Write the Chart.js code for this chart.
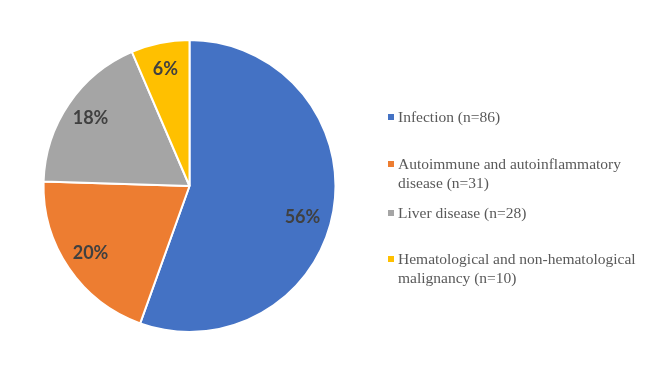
<!DOCTYPE html>
<html lang="en">
  <head>
    <meta charset="UTF-8" />
    <title>Pie chart</title>
    <script src="https://cdn.jsdelivr.net/npm/chart.js"></script>
    <style>
      html, body {
        margin: 0;
        padding: 0;
        background: #ffffff;
      }
      #wrap {
        position: relative;
        width: 669px;
        height: 372px;
      }
      #legend {
        position: absolute;
        left: 0;
        top: 0;
        font-family: "Liberation Serif", "Times New Roman", serif;
        font-size: 15.5px;
        line-height: 19px;
        color: #595959;
      }
      .item {
        position: absolute;
        left: 398px;
        width: 255px;
      }
      .item .box {
        position: absolute;
        left: -10px;
        top: 7px;
        width: 6px;
        height: 6px;
      }
    </style>
  </head>
  <body>
    <div id="wrap">
      <canvas id="myChart" width="669" height="372"></canvas>
      <div id="legend"></div>
    </div>

    <script>
      var labels = [
        'Infection (n=86)',
        'Autoimmune and autoinflammatory disease (n=31)',
        'Liver disease (n=28)',
        'Hematological and non-hematological malignancy (n=10)'
      ];
      var counts = [86, 31, 28, 10];
      var percentLabels = ['56%', '20%', '18%', '6%'];
      var colors = ['#4472C4', '#ED7D31', '#A5A5A5', '#FFC000'];

      // legend rows (top of first line, px)
      var legendTops = [106.5, 153.5, 202.5, 248.5];
      // small nudges of the % text, like Excel's best-fit placement
      var labelNudge = [[-5, 11], [0, 0], [0, 0], [0, 0]];

      var legend = document.getElementById('legend');
      labels.forEach(function (txt, i) {
        var div = document.createElement('div');
        div.className = 'item';
        div.style.top = legendTops[i] + 'px';
        var box = document.createElement('span');
        box.className = 'box';
        box.style.background = colors[i];
        div.appendChild(box);
        div.appendChild(document.createTextNode(txt));
        legend.appendChild(div);
      });

      // percentage text inside each slice
      var sliceLabels = {
        id: 'sliceLabels',
        afterDatasetsDraw: function (chart) {
          var ctx = chart.ctx;
          var meta = chart.getDatasetMeta(0);
          ctx.save();
          ctx.font = 'bold 18px Lato, "Open Sans", sans-serif';
          ctx.fillStyle = '#404040';
          ctx.textAlign = 'center';
          ctx.textBaseline = 'middle';
          meta.data.forEach(function (arc, i) {
            var p = arc.getProps(['x', 'y', 'startAngle', 'endAngle', 'outerRadius'], true);
            var mid = (p.startAngle + p.endAngle) / 2;
            var r = p.outerRadius * 0.82;
            ctx.fillText(percentLabels[i],
              p.x + Math.cos(mid) * r + labelNudge[i][0],
              p.y + Math.sin(mid) * r + labelNudge[i][1]);
          });
          ctx.restore();
        }
      };

      var ctx = document.getElementById('myChart').getContext('2d');
      var myChart = new Chart(ctx, {
        type: 'pie',
        data: {
          labels: labels,
          datasets: [{
            data: counts,
            backgroundColor: colors,
            borderColor: '#ffffff',
            borderWidth: 2
          }]
        },
        options: {
          responsive: false,
          animation: false,
          layout: {
            padding: { left: 42.5, right: 332.5, top: 39, bottom: 39 }
          },
          plugins: {
            legend: { display: false },
            tooltip: { enabled: false }
          }
        },
        plugins: [sliceLabels]
      });
    </script>
  </body>
</html>
